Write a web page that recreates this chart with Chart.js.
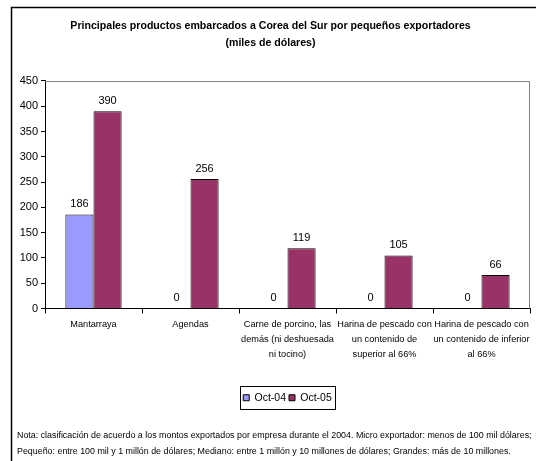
<!DOCTYPE html>
<html><head><meta charset="utf-8">
<script src="https://cdn.jsdelivr.net/npm/chart.js@4/dist/chart.umd.min.js"></script>
<style>html,body{margin:0;padding:0;background:#fff;}#wrap{width:536px;height:461px;position:relative;}</style>
</head><body><div id="wrap"><canvas id="c" width="536" height="461"></canvas></div>
<script>
const categories = [
  "Mantarraya",
  "Agendas",
  ["Carne de porcino, las", "demás (ni deshuesada", "ni tocino)"],
  ["Harina de pescado con", "un contenido de", "superior al 66%"],
  ["Harina de pescado con", "un contenido de inferior", "al 66%"]
];
const seriesNames = ["Oct-04", "Oct-05"];
const oct04 = [186, 0, 0, 0, 0];
const oct05 = [390, 256, 119, 105, 66];
const titleLines = ["Principales productos embarcados a Corea del Sur por pequeños exportadores", "(miles de dólares)"];
const noteLines = [
  "Nota: clasificación de acuerdo a los montos exportados por empresa durante el 2004. Micro exportador: menos de 100 mil dólares;",
  "Pequeño: entre 100 mil y 1 millón de dólares; Mediano: entre 1 millón y 10 millones de dólares; Grandes: más de 10 millones."
];
const FONT = "'Liberation Sans', Arial, sans-serif";

const decor = {
  id: 'decor',
  afterDraw(chart) {
    const ctx = chart.ctx;
    const a = chart.chartArea;
    ctx.save();
    ctx.strokeStyle = '#000';
    ctx.lineWidth = 1.5;
    ctx.beginPath();
    ctx.moveTo(11.5, 461); ctx.lineTo(11.5, 7.5); ctx.lineTo(536, 7.5);
    ctx.stroke();
    ctx.strokeStyle = '#808080';
    ctx.lineWidth = 1;
    ctx.beginPath();
    ctx.moveTo(a.left, Math.round(a.top) + 0.5);
    ctx.lineTo(Math.round(a.right) - 0.5, Math.round(a.top) + 0.5);
    ctx.lineTo(Math.round(a.right) - 0.5, a.bottom);
    ctx.stroke();
    const lg = chart.legend;
    if (lg && lg.legendHitBoxes && lg.legendHitBoxes.length) {
      let l = Infinity, r = -Infinity, t = Infinity, b = -Infinity;
      lg.legendHitBoxes.forEach(h => { l = Math.min(l, h.left); r = Math.max(r, h.left + h.width); t = Math.min(t, h.top); b = Math.max(b, h.top + h.height); });
      ctx.strokeStyle = '#000';
      ctx.lineWidth = 1;
      ctx.strokeRect(Math.round(l - 3) + 0.5, Math.round(t - 7) + 0.5, Math.round(r - l + 6), Math.round(b - t + 12));
    }
    ctx.fillStyle = '#000';
    ctx.textBaseline = 'middle';
    ctx.textAlign = 'left';
    ctx.font = "9px " + FONT;
    const w0 = ctx.measureText(noteLines[0]).width;
    const size = Math.min(9, 9 * 515 / w0);
    ctx.font = size + "px " + FONT;
    noteLines.forEach((line, i) => ctx.fillText(line, 17, 436 + i * 16));
    ctx.restore();
  },
  afterDatasetsDraw(chart) {
    const ctx = chart.ctx;
    ctx.save();
    ctx.fillStyle = '#000';
    ctx.font = "11px " + FONT;
    ctx.textAlign = 'center';
    ctx.textBaseline = 'bottom';
    chart.data.datasets.forEach((ds, i) => {
      const meta = chart.getDatasetMeta(i);
      meta.data.forEach((bar, j) => {
        ctx.fillText(String(ds.data[j]), bar.x, bar.y - 5);
      });
    });
    ctx.restore();
  }
};

new Chart(document.getElementById('c'), {
  type: 'bar',
  data: {
    labels: categories,
    datasets: [
      { label: seriesNames[0], data: oct04, backgroundColor: '#9999FF', borderColor: '#000', borderWidth: 1, categoryPercentage: 0.58, barPercentage: 1 },
      { label: seriesNames[1], data: oct05, backgroundColor: '#993366', borderColor: '#000', borderWidth: 1, categoryPercentage: 0.58, barPercentage: 1 }
    ]
  },
  options: {
    responsive: false,
    animation: false,
    devicePixelRatio: 1,
    layout: { padding: { left: 11, right: 6, top: 0, bottom: 48 } },
    plugins: {
      title: {
        display: true,
        text: titleLines,
        color: '#000',
        font: { family: FONT, size: 10.6, weight: 'bold', lineHeight: 1.6 },
        padding: { top: 18, bottom: 29 }
      },
      legend: {
        position: 'bottom',
        fullSize: false,
        labels: {
          color: '#000',
          font: { family: FONT, size: 10.5 },
          boxWidth: 6, boxHeight: 6,
          padding: 3,
          generateLabels(chart) {
            return chart.data.datasets.map((ds, i) => ({
              text: ds.label, fillStyle: ds.backgroundColor, strokeStyle: '#000', lineWidth: 1, datasetIndex: i, hidden: false, fontColor: '#000'
            }));
          }
        }
      },
      tooltip: { enabled: false }
    },
    scales: {
      x: {
        grid: { display: true, drawOnChartArea: false, drawTicks: true, tickLength: 5, color: '#000', offset: true },
        border: { display: true, color: '#000' },
        ticks: { color: '#000', font: { family: FONT, size: 9.2, lineHeight: 1.63 }, maxRotation: 0, autoSkip: false, padding: 3 },
        afterFit(s) { s.height = 81; }
      },
      y: {
        min: 0, max: 450,
        ticks: { stepSize: 50, color: '#000', font: { family: FONT, size: 11 }, padding: 3 },
        grid: { display: true, drawOnChartArea: false, drawTicks: true, tickLength: 4, color: '#000' },
        border: { display: true, color: '#000' },
        afterFit(s) { s.width = 34; }
      }
    }
  },
  plugins: [decor]
});
</script></body></html>
